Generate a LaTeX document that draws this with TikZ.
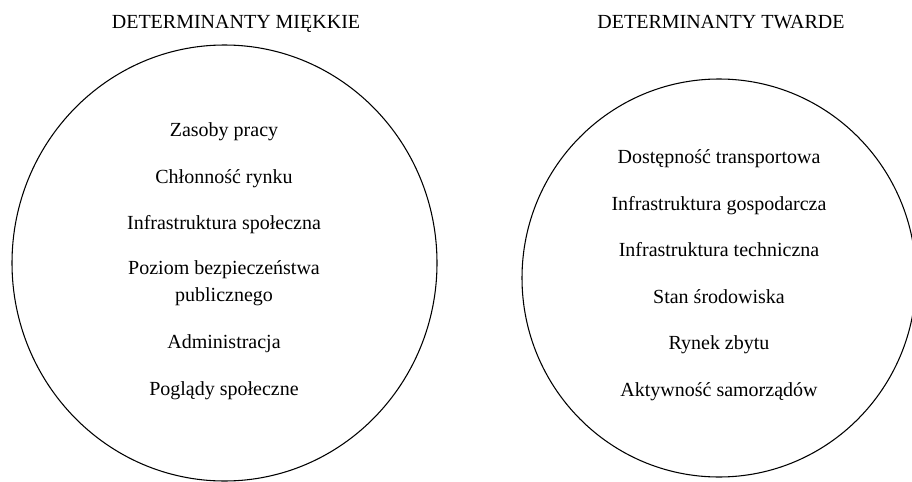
\documentclass[tikz,border=0pt]{standalone}
\usepackage{fontspec}
\setmainfont{Liberation Serif}
\usetikzlibrary{positioning,shapes.geometric}

\begin{document}
\begin{tikzpicture}[
  x=0.75pt, y=-0.75pt,
  font=\fontsize{15}{20.25}\selectfont,
  ring/.style={draw=black, line width=0.8pt, ellipse, inner sep=0pt},
  head/.style={anchor=base, inner sep=0pt},
  item/.style={anchor=base, inner sep=0pt, align=center},
]
\useasboundingbox (0,0) rectangle (912,481);
% titles
\node[head] (softtitle) at (236,29) {DETERMINANTY MIĘKKIE};
\node[head] (hardtitle) at (721,29) {DETERMINANTY TWARDE};
% circles
\node[ring, minimum width=425*0.75pt, minimum height=436*0.75pt] (soft) at (224.5,263) {};
\node[ring, minimum width=394*0.75pt, minimum height=398*0.75pt] (hard) at (719,278) {};
% soft determinants
\node[item] (labour) at (224,137) {Zasoby pracy};
\node[item] (market) at (224,183) {Chłonność rynku};
\node[item] (social) at (224,229) {Infrastruktura społeczna};
\node[item, anchor=north] (safety) at (224,260) {Poziom bezpieczeństwa\\publicznego};
\node[item] (admin) at (224,348) {Administracja};
\node[item] (views) at (224,395) {Poglądy społeczne};
% hard determinants
\node[item] (transport) at (719,163) {Dostępność transportowa};
\node[item] (economic) at (719,210) {Infrastruktura gospodarcza};
\node[item] (technical) at (719,256) {Infrastruktura techniczna};
\node[item] (environment) at (719,303) {Stan środowiska};
\node[item] (sales) at (719,349) {Rynek zbytu};
\node[item] (councils) at (719,396) {Aktywność samorządów};
\end{tikzpicture}
\end{document}
